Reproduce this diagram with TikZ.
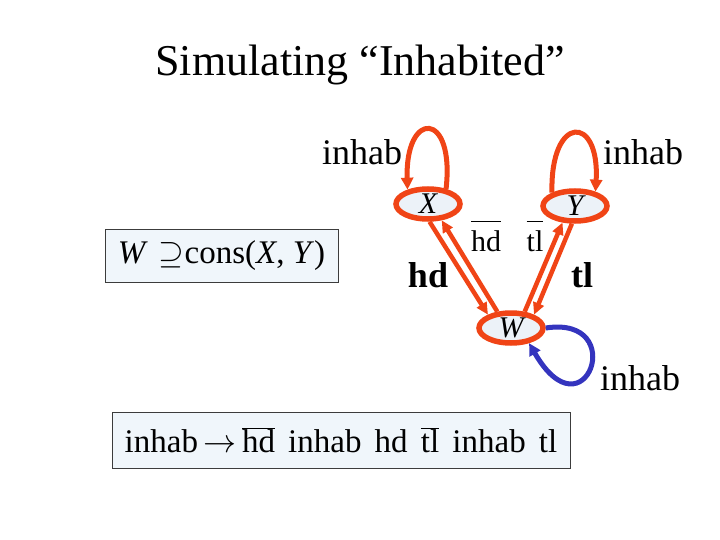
\RequirePackage{fix-cm}
\documentclass[tikz,border=0pt]{standalone}
\usepackage{fontspec}
\setmainfont{Liberation Serif}
\usetikzlibrary{arrows.meta,shapes.geometric}
\definecolor{edgered}{RGB}{240,68,22}
\definecolor{loopblue}{RGB}{52,52,190}
\definecolor{nodefill}{RGB}{236,242,248}
\definecolor{boxfill}{RGB}{240,246,251}
\definecolor{boxline}{RGB}{60,60,60}
\begin{document}
\begin{tikzpicture}[x=1pt,y=-1pt,
    state/.style={ellipse,draw=edgered,line width=5.5pt,fill=nodefill,
      minimum width=64pt,minimum height=30pt,inner sep=0pt,
      font=\fontsize{30}{32}\selectfont\itshape},
    redarrow/.style={draw=edgered,line width=4.5pt,-{Triangle[length=12pt,width=11pt]}},
    redloop/.style={draw=edgered,line width=5pt,-{Triangle[length=12pt,width=12pt]}},
    blueloop/.style={draw=loopblue,line width=5pt,-{Triangle[length=12pt,width=12pt]}},
    lbl/.style={inner sep=0pt,font=\fontsize{36}{40}\selectfont},
    boldlbl/.style={inner sep=0pt,font=\fontsize{36}{40}\selectfont\bfseries},
    barlbl/.style={inner sep=0pt,font=\fontsize{30}{34}\selectfont},
    formula/.style={draw=boxline,line width=1pt,fill=boxfill,inner sep=0pt,
      font=\fontsize{33}{38}\selectfont}]
\useasboundingbox (0,0) rectangle (720,540);
\node[font=\fontsize{44}{50}\selectfont] (title) at (360,65) {Simulating “Inhabited”};
\node[state] (X) at (428,204) {X};
\node[state] (Y) at (575,206) {Y};
\node[state] (W) at (511,328) {W};
\draw[redarrow] (X.-85) -- (W.150);
\draw[redarrow] (W.130) -- (X.-50);
\draw[redarrow] (Y.-100) -- (W.30);
\draw[redarrow] (W.50) -- (Y.-127);
\draw[redloop] (X.40) .. controls (455,110) and (405,110) .. (X.145);
\draw[redloop] (Y.150) .. controls (550,114) and (600,114) .. (Y.35);
\draw[blueloop] (W.0) .. controls (630,315) and (585,440) .. (W.-40);
\node[lbl] (inhabX) at (362,152) {inhab};
\node[lbl] (inhabY) at (643,152) {inhab};
\node[lbl] (inhabW) at (640,378) {inhab};
\node[boldlbl] (hd) at (428,275) {hd};
\node[boldlbl] (tl) at (582,275) {tl};
\node[barlbl] (hdbar) at (486,236) {$\overline{\rule{0pt}{0.95em}\mbox{hd}}$};
\node[barlbl] (tlbar) at (535,236) {$\overline{\rule{0pt}{0.95em}\mbox{tl}}$};
\node[formula,minimum width=233pt,minimum height=52pt] (cons) at (221.5,256)
  {\textit{W}\,\,$\supseteq$cons(\textit{X}, \textit{Y})};
\node[formula,minimum width=458pt,minimum height=56pt] (rule) at (341,440)
  {inhab\,$\rightarrow$\,$\overline{\mbox{hd}}$\hspace{0.4em}inhab\hspace{0.4em}hd\hspace{0.4em}$\overline{\mbox{tl}}$\hspace{0.4em}inhab\hspace{0.4em}tl};
\end{tikzpicture}
\end{document}
